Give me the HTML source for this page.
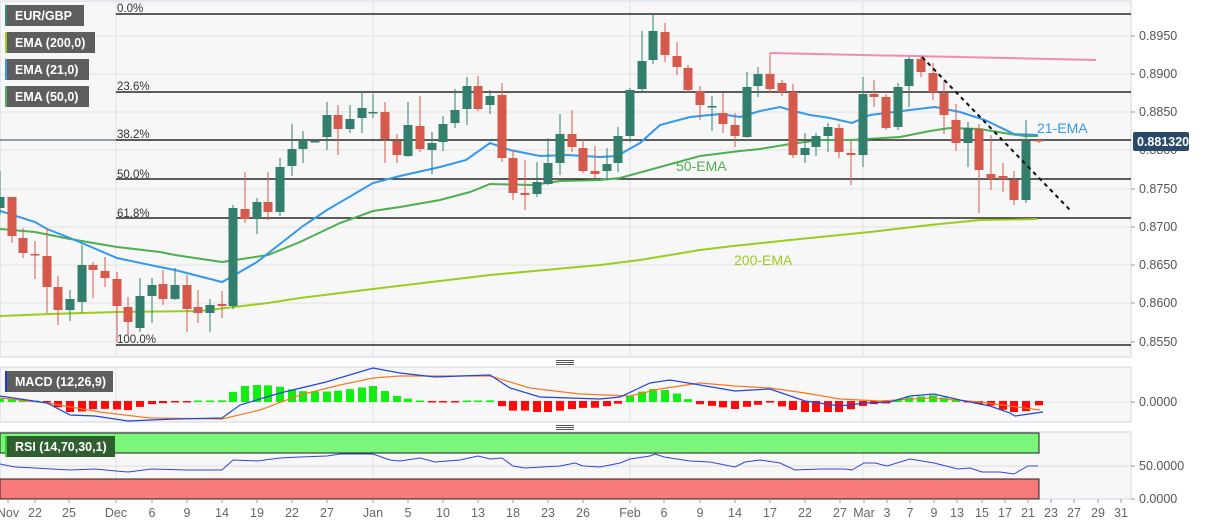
<!DOCTYPE html>
<html><head><meta charset="utf-8"><style>
html,body{margin:0;padding:0;background:#fff;width:1207px;height:526px;overflow:hidden}
svg{display:block;font-family:"Liberation Sans",sans-serif}
</style></head><body>
<svg id="s" width="1207" height="526" viewBox="0 0 1207 526" xmlns="http://www.w3.org/2000/svg">
<rect x="0" y="1" width="1131" height="356" fill="#f7f7f7" stroke="#cfd5e3"/>
<rect x="0" y="367" width="1131" height="55" fill="#f7f7f7" stroke="#cfd5e3"/>
<rect x="0" y="432" width="1131" height="67" fill="#f7f7f7" stroke="#cfd5e3"/>
<g id="grid" stroke="#e2e2e2" stroke-width="1"></g>
<g id="fib" stroke="#000" stroke-width="1.2">
<line x1="116" y1="14" x2="1131" y2="14"/><line x1="116" y1="92" x2="1131" y2="92"/>
<line x1="116" y1="140" x2="1131" y2="140"/><line x1="116" y1="179" x2="1131" y2="179"/>
<line x1="116" y1="218" x2="1131" y2="218"/><line x1="116" y1="345" x2="1131" y2="345"/>
</g>
<line x1="0" y1="140" x2="116" y2="140" stroke="#2a4a6b" stroke-width="1"/>
<g font-size="11.5" fill="#333">
<text x="117" y="12">0.0%</text><text x="117" y="90">23.6%</text><text x="117" y="138">38.2%</text>
<text x="117" y="178">50.0%</text><text x="117" y="217">61.8%</text><text x="117" y="343">100.0%</text>
</g>
<g id="ema"></g>
<g id="candles"></g>
<line x1="770" y1="53" x2="1096" y2="60" stroke="#f08cb0" stroke-width="2"/>
<line x1="922" y1="57" x2="1070" y2="210" stroke="#111" stroke-width="2" stroke-dasharray="4,4"/>
<text x="676" y="171" font-size="14" fill="#4caf50">50-EMA</text>
<text x="734" y="265" font-size="14" fill="#9acd1e">200-EMA</text>
<text x="1037" y="133" font-size="14" fill="#3399ee">21-EMA</text>
<g font-size="12.5" fill="#555">
<text x="1139" y="40">0.8950</text><text x="1139" y="78">0.8900</text><text x="1139" y="116">0.8850</text>
<text x="1139" y="154">0.8800</text><text x="1139" y="193">0.8750</text><text x="1139" y="231">0.8700</text>
<text x="1139" y="269">0.8650</text><text x="1139" y="307">0.8600</text><text x="1139" y="346">0.8550</text>
<text x="1139" y="406">0.0000</text><text x="1139" y="470">50.0000</text><text x="1139" y="503">0.0000</text>
</g>
<g stroke="#999"><line x1="1131" y1="36" x2="1135" y2="36"/><line x1="1131" y1="74" x2="1135" y2="74"/><line x1="1131" y1="112" x2="1135" y2="112"/><line x1="1131" y1="189" x2="1135" y2="189"/><line x1="1131" y1="227" x2="1135" y2="227"/><line x1="1131" y1="265" x2="1135" y2="265"/><line x1="1131" y1="303" x2="1135" y2="303"/><line x1="1131" y1="342" x2="1135" y2="342"/><line x1="1131" y1="402" x2="1135" y2="402"/><line x1="1131" y1="466" x2="1135" y2="466"/><line x1="1131" y1="499" x2="1135" y2="499"/></g>
<rect x="1133" y="132" width="56" height="19" rx="2" fill="#2a4a6b"/>
<text x="1137" y="146" font-size="12.5" font-weight="bold" fill="#fff">0.881320</text>
<g id="macd"></g>
<rect x="0" y="433" width="1039" height="20" fill="#7af77a" stroke="#222" stroke-width="1"/>
<rect x="0" y="479" width="1039" height="20" fill="#f77a7a" stroke="#222" stroke-width="1"/>
<line x1="0" y1="466" x2="1131" y2="466" stroke="#dcdcdc"/>
<polyline fill="none" stroke="#3344dd" stroke-width="1" points="0,464 15,467 35,468 70,470 95,469 116,471 128,472 152,469 187,470 222,470 233,460 257,461 280,458 300,457 327,456 340,454 373,454 390,460 400,461 420,458 435,462 460,460 478,456 490,459 502,458 513,466 525,468 560,466 575,463 583,466 600,467 620,463 630,459 650,456 655,454 664,457 690,461 710,462 735,467 745,462 760,460 780,463 795,470 820,469 845,469 852,470 864,463 875,463 887,466 910,459 934,463 958,469 970,468 982,472 1000,472 1014,474 1028,466 1038,466"/>
<g fill="#555" font-size="12.5">
<rect x="556" y="360" width="18" height="1"/><rect x="556" y="362" width="18" height="1"/><rect x="556" y="364" width="18" height="1"/>
<rect x="556" y="425" width="18" height="1"/><rect x="556" y="427" width="18" height="1"/><rect x="556" y="429" width="18" height="1"/>
</g>
<g id="xax" font-size="12.5" fill="#666" text-anchor="middle"></g>
<g font-size="12.5" fill="#fff" font-weight="bold">
<rect x="5" y="5" width="79" height="21" fill="#5e5e5e"/><rect x="5" y="5" width="2" height="21" fill="#2e8b74"/><text x="15" y="20">EUR/GBP</text>
<rect x="5" y="32" width="90" height="21" fill="#5e5e5e"/><rect x="5" y="32" width="2" height="21" fill="#9acd1e"/><text x="15" y="47">EMA (200,0)</text>
<rect x="5" y="59" width="84" height="21" fill="#5e5e5e"/><rect x="5" y="59" width="2" height="21" fill="#3399ee"/><text x="15" y="74">EMA (21,0)</text>
<rect x="5" y="86" width="84" height="21" fill="#5e5e5e"/><rect x="5" y="86" width="2" height="21" fill="#4caf50"/><text x="15" y="101">EMA (50,0)</text>
<rect x="5" y="371" width="108" height="21" fill="#5e5e5e"/><rect x="5" y="371" width="2" height="21" fill="#2233ee"/><text x="15" y="386">MACD (12,26,9)</text>
<rect x="5" y="436" width="110" height="21" fill="#2f5f2f"/><rect x="5" y="436" width="2" height="21" fill="#3c3"/><text x="15" y="451">RSI (14,70,30,1)</text>
</g>
</svg>
<script>
var NS="http://www.w3.org/2000/svg";
function el(p,t,a){var e=document.createElementNS(NS,t);for(var k in a)e.setAttribute(k,a[k]);document.getElementById(p).appendChild(e);return e;}
[36,74,112,150,189,227,265,303,342].forEach(function(y){el("grid","line",{x1:0,y1:y,x2:1131,y2:y});});
[116,373,630,863].forEach(function(x){el("grid","line",{x1:x,y1:1,x2:x,y2:357});el("grid","line",{x1:x,y1:367,x2:x,y2:422});el("grid","line",{x1:x,y1:432,x2:x,y2:499});});
el("grid","line",{x1:0,y1:402,x2:1131,y2:402});
function pl(pts,c,w){el("ema","polyline",{points:pts,fill:"none",stroke:c,"stroke-width":w});}
pl("0,316 50,314 117,312 200,311 268,303 300,298 373,289 490,275 600,265 640,260 700,250 733,246 790,240 870,232 930,225 980,220 1037,219","#9acd1e",2);
pl("0,229 35,232 70,239 117,247 160,252 175,255 222,262 268,255 300,242 340,223 373,211 400,207 440,200 470,192 490,184 533,185 560,181 600,180 620,178 660,167 700,156 740,151 760,149 790,144 820,140 850,140 900,137 930,131 950,128 980,129 1010,134 1025,136 1038,136","#4caf50",2);
pl("0,211 35,222 47,229 70,238 117,258 150,265 175,270 222,282 233,276 257,262 280,244 303,226 327,210 373,183 400,176 440,167 466,160 490,143 510,150 540,156 567,155 600,157 617,156 640,143 660,125 690,117 720,114 740,117 760,111 780,107 790,110 810,115 830,118 852,123 870,115 910,110 935,107 960,112 985,120 1014,134 1038,135","#3399ee",2);
var C=[[0,'g',197,208,171,215],[12,'r',197,236,197,243],[23,'r',238,253,228,258],[35,'r',254,255,241,279],[47,'r',256,287,228,313],[58,'r',287,310,276,325],[70,'g',299,310,290,321],[82,'g',265,302,245,313],[93,'r',265,270,262,298],[105,'r',271,278,257,287],[117,'r',279,306,272,342],[128,'r',307,322,297,337],[140,'g',296,328,278,332],[152,'g',285,296,278,323],[163,'r',284,299,270,305],[175,'g',285,299,268,300],[187,'r',285,309,275,332],[198,'r',307,313,290,323],[210,'g',305,313,299,332],[222,'r',304,306,291,318],[233,'g',208,306,205,309],[245,'r',209,219,172,223],[257,'g',202,218,198,234],[268,'r',202,212,172,220],[280,'g',167,212,158,216],[292,'g',149,166,124,176],[303,'g',140,149,131,163],[315,'g',141,142,140,142],[327,'g',115,137,102,150],[338,'r',115,129,105,155],[350,'g',119,129,105,133],[362,'g',108,118,91,133],[373,'g',112,113,94,118],[385,'r',112,139,102,163],[397,'r',141,155,134,163],
[408,'g',125,156,102,157],[420,'r',126,149,96,152],[432,'g',143,150,132,174],[443,'g',124,142,116,151],[455,'g',110,123,89,128],[467,'g',86,109,77,125],[478,'r',86,109,76,111],[490,'g',96,105,90,114],[502,'r',95,158,83,162],[513,'r',158,193,150,200],[525,'r',193,195,160,210],[537,'g',182,194,162,197],[548,'g',163,184,138,185],[560,'g',134,163,114,175],[572,'r',134,147,110,152],[583,'r',148,171,139,173],[595,'r',171,174,146,178],[607,'g',164,171,148,180],[618,'g',136,163,127,172],[630,'g',90,136,88,142],[642,'g',61,89,31,93],[653,'g',31,60,14,64],[665,'r',32,55,23,62],[677,'r',56,67,42,75],[688,'r',68,90,65,93],[700,'r',91,105,86,120],[712,'g',106,107,96,131],[723,'r',113,124,93,133],[735,'r',125,136,113,147],[747,'g',87,137,72,138],[758,'g',74,86,67,97],[770,'r',74,89,53,93],[782,'r',83,92,80,96],[793,'r',92,155,84,158],
[805,'g',148,155,133,163],[816,'g',136,147,133,156],[828,'g',127,136,123,152],[839,'r',128,152,124,158],[851,'r',153,155,140,185],[863,'g',94,155,77,167],[874,'r',94,97,80,107],[886,'r',97,128,94,130],[898,'g',87,127,83,130],[909,'g',59,86,56,107],[921,'r',59,72,55,77],[933,'r',73,92,63,100],[944,'r',93,115,81,134],[956,'r',120,143,104,151],[968,'g',128,143,122,167],[979,'r',129,170,124,213],[991,'r',174,179,135,190],[1003,'r',176,179,163,192],[1014,'r',180,200,171,205],[1026,'g',141,200,120,203],[1039,'r',140,141,139,143]];
C.forEach(function(c){var col=c[1]=='g'?'#317f6c':'#d65a4b';
el("candles","line",{x1:c[0],y1:c[4],x2:c[0],y2:c[5],stroke:col,"stroke-width":1});
el("candles","rect",{x:c[0]-4.5,y:c[2],width:9,height:Math.max(1.5,c[3]-c[2]),fill:col});});
function interp(pts,x){for(var i=0;i<pts.length-1;i++){if(x>=pts[i][0]&&x<=pts[i+1][0]){var t=(x-pts[i][0])/(pts[i+1][0]-pts[i][0]);return pts[i][1]+t*(pts[i+1][1]-pts[i][1]);}}return pts[pts.length-1][1];}
var M=[[0,396],[47,403],[70,415],[95,416],[128,421],[175,419],[222,418],[240,405],[280,393],[326,382],[373,368],[400,373],[435,377],[460,376],[490,375],[510,388],[540,397],[570,398],[600,399],[620,397],[650,383],[670,380],[700,385],[735,391],[770,389],[805,401],[840,406],[865,403],[890,402],[910,396],[934,394],[960,400],[990,406],[1010,413],[1015,416],[1043,412]];
var S=[[0,398],[47,403],[100,412],[150,418],[222,419],[260,410],[300,395],[340,385],[373,378],[400,376],[490,376],[530,388],[580,394],[630,396],[660,389],[700,383],[735,386],[770,388],[805,393],[840,399],[880,401],[930,398],[980,402],[1010,406],[1040,410]];
C.forEach(function(c){var d=(interp(S,c[0])-interp(M,c[0]))*1.6;d=Math.max(-11,Math.min(17,d));
var h=Math.max(1.5,Math.abs(d));
el("macd","rect",{x:c[0]-4,y:d>0?402-h:401,width:8,height:h,fill:d>0?'#11ee11':'#ff0a0a'});});
el("macd","polyline",{points:S.map(function(p){return p.join(',')}).join(' '),fill:"none",stroke:"#f47a20","stroke-width":1.2});
el("macd","polyline",{points:M.map(function(p){return p.join(',')}).join(' '),fill:"none",stroke:"#2244dd","stroke-width":1.2});
var L=[["Nov",8],["22",35],["25",69],["Dec",116],["6",152],["9",187],["14",222],["19",257],["22",292],["27",327],["Jan",373],["5",408],["10",443],["13",478],["18",513],["23",548],["26",583],["Feb",630],["6",664],["9",700],["14",735],["17",770],["22",805],["27",840],["Mar",864],["3",887],["7",910],["9",934],["13",957],["15",982],["17",1005],["21",1028],["23",1051],["27",1074],["29",1098],["31",1121]];
L.forEach(function(l){var t=el("xax","text",{x:l[1],y:517});t.textContent=l[0];el("xax","line",{x1:l[1],y1:499,x2:l[1],y2:503,stroke:"#999"});});
</script>
</body></html>
